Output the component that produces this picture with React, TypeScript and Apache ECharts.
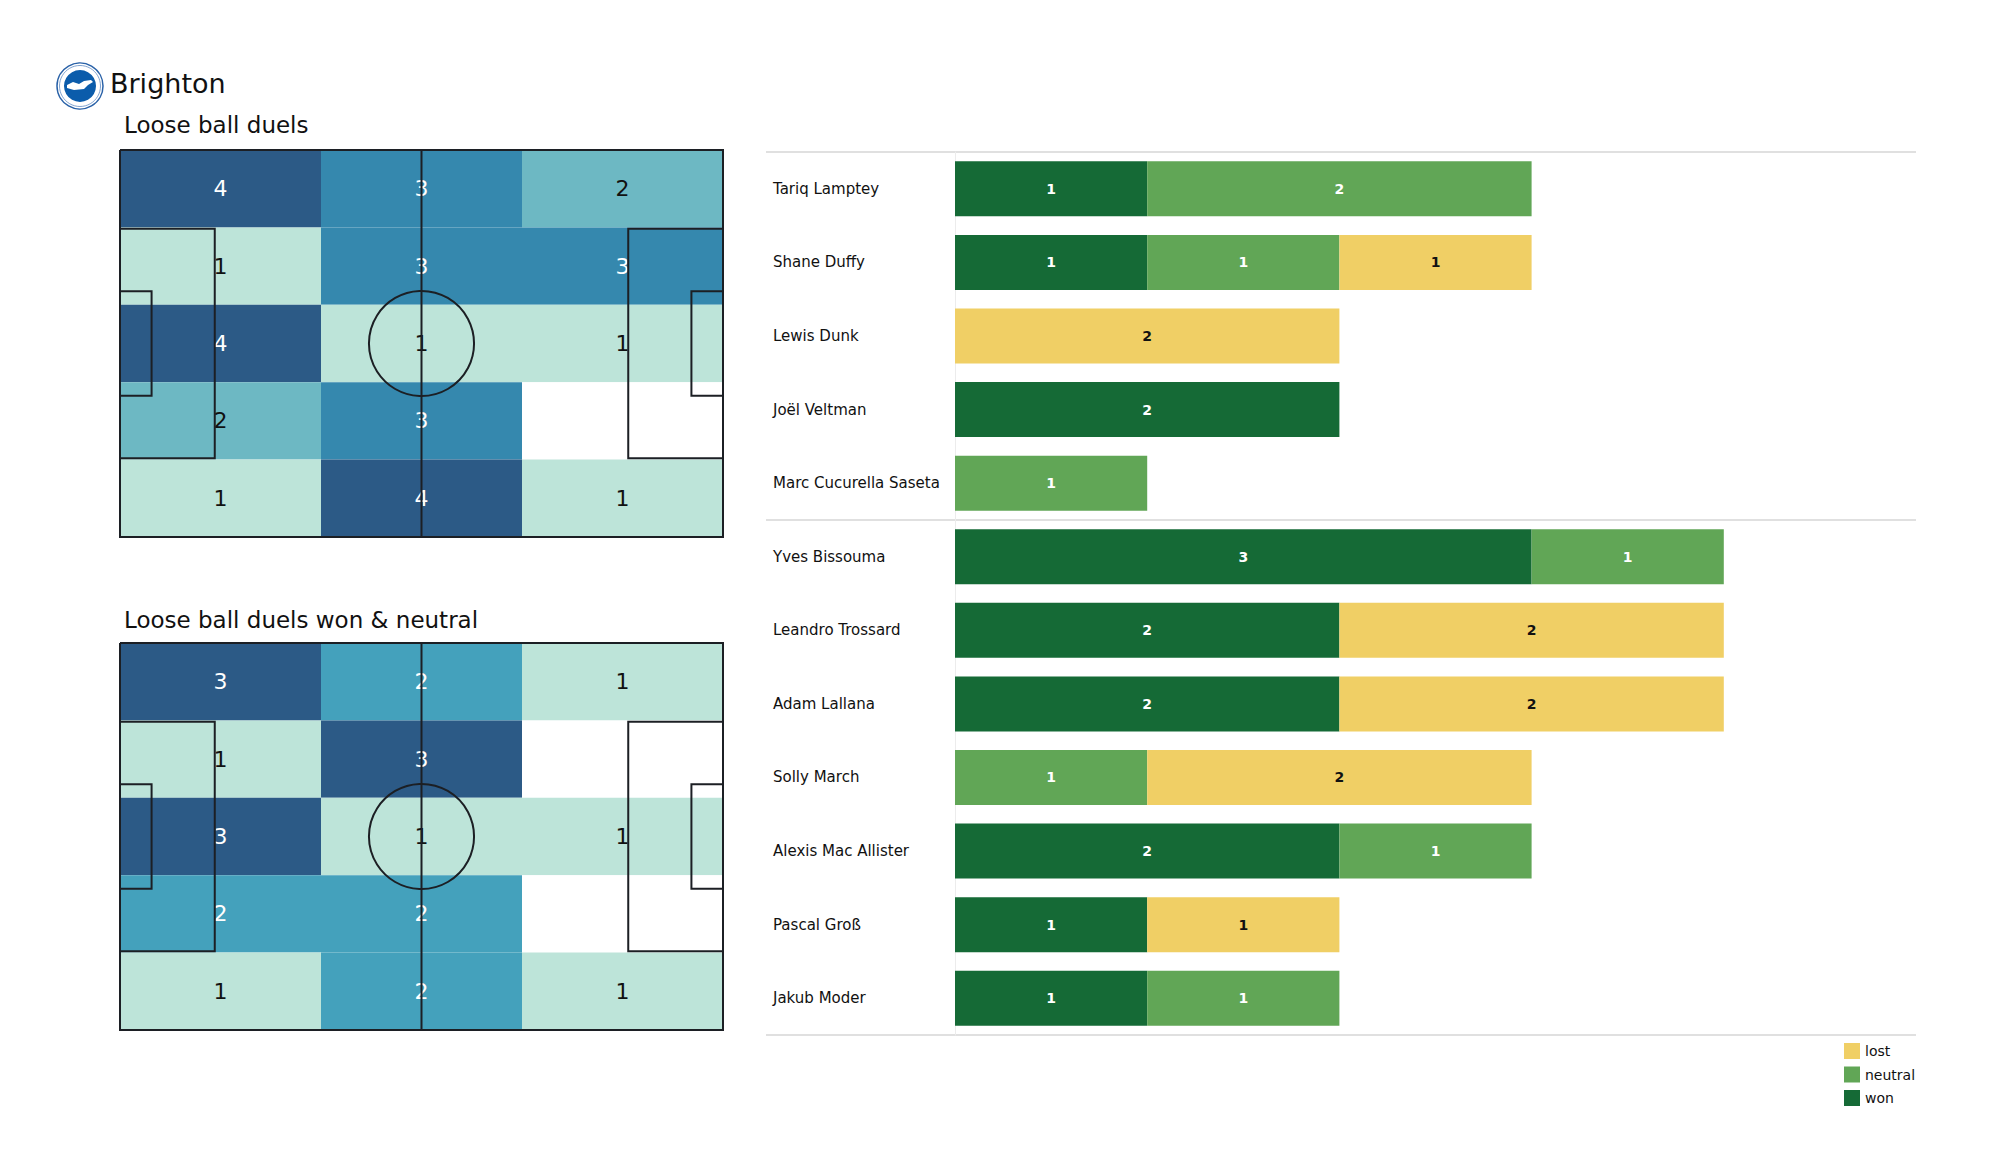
import React, { useEffect, useRef } from "react";
import * as echarts from "echarts";

// ---------- data ----------
const players = [
  "Tariq Lamptey",
  "Shane Duffy",
  "Lewis Dunk",
  "Joël Veltman",
  "Marc Cucurella Saseta",
  "Yves Bissouma",
  "Leandro Trossard",
  "Adam Lallana",
  "Solly March",
  "Alexis Mac Allister",
  "Pascal Groß",
  "Jakub Moder",
];
const won = [1, 1, 0, 2, 0, 3, 2, 2, 0, 2, 1, 1];
const neutral = [2, 1, 0, 0, 1, 1, 0, 0, 1, 1, 0, 1];
const lost = [0, 1, 2, 0, 0, 0, 2, 2, 2, 0, 1, 0];

// pitch zones: rows top->bottom, columns left->right
const duelsAll = [
  [4, 3, 2],
  [1, 3, 3],
  [4, 1, 1],
  [2, 3, 0],
  [1, 4, 1],
];
const duelsWonNeutral = [
  [3, 2, 1],
  [1, 3, 0],
  [3, 1, 1],
  [2, 2, 0],
  [1, 2, 1],
];

const teamName = "Brighton";
const titleTop = "Loose ball duels";
const titleBottom = "Loose ball duels won & neutral";
const legendNames = ["lost", "neutral", "won"];

// ---------- styles / layout ----------
const FONT = "DejaVu Sans";
const C_WON = "#156a36";
const C_NEUTRAL = "#61a656";
const C_LOST = "#f0cf65";
const LINE = "#1c1f24";
const PITCH_L = 0;
const PITCH_W = 105;
const PITCH_H = 68;
const PITCH_LEFT = 120;
const PITCH_WIDTH = 603;
const PITCH_HEIGHT = 387;
const PITCH1_TOP = 150;
const PITCH2_TOP = 643;
const BAR_LEFT = 955;
const BAR_TOP = 152;
const BAR_WIDTH = 961;
const BAR_HEIGHT = 883;

const colorStops: [number, string][] = [
  [0, "#bde4d9"],
  [1 / 3, "#6db8c3"],
  [0.5, "#44a1bc"],
  [2 / 3, "#3588ae"],
  [1, "#2c5a86"],
];

function hexToRgb(h: string) {
  const n = parseInt(h.slice(1), 16);
  return [(n >> 16) & 255, (n >> 8) & 255, n & 255];
}
function cmap(t: number) {
  for (let i = 0; i < colorStops.length - 1; i++) {
    const [t0, c0] = colorStops[i];
    const [t1, c1] = colorStops[i + 1];
    if (t <= t1 + 1e-9) {
      const f = t1 === t0 ? 0 : (t - t0) / (t1 - t0);
      const a = hexToRgb(c0);
      const b = hexToRgb(c1);
      const r = a.map((v, k) => Math.round(v + (b[k] - v) * f));
      return `rgb(${r[0]},${r[1]},${r[2]})`;
    }
  }
  return colorStops[colorStops.length - 1][1];
}

function zoneData(matrix: number[][]) {
  const out: number[][] = [];
  matrix.forEach((row, r) => row.forEach((v, c) => out.push([c, r, v])));
  return out;
}

function makeCellRender(matrix: number[][]) {
  const flat = matrix.flat();
  const max = Math.max(...flat);
  const min = Math.min(...flat.filter((v) => v > 0));
  const nCols = matrix[0].length;
  const nRows = matrix.length;
  const cw = PITCH_W / nCols;
  const rh = PITCH_H / nRows;
  return (params: any, api: any) => {
    const c = api.value(0);
    const r = api.value(1);
    const v = api.value(2);
    const p0 = api.coord([c * cw, r * rh]);
    const p1 = api.coord([(c + 1) * cw, (r + 1) * rh]);
    const x = Math.min(p0[0], p1[0]);
    const y = Math.min(p0[1], p1[1]);
    const w = Math.abs(p1[0] - p0[0]);
    const h = Math.abs(p1[1] - p0[1]);
    if (!v) {
      return { type: "rect", shape: { x, y, width: w, height: h }, style: { fill: "#ffffff" } };
    }
    const t = max === min ? 1 : (v - min) / (max - min);
    return {
      type: "group",
      children: [
        { type: "rect", shape: { x, y, width: w, height: h }, style: { fill: cmap(t) } },
        {
          type: "text",
          x: x + w / 2,
          y: y + h / 2,
          style: {
            text: String(v),
            fill: t > 0.4 ? "#ffffff" : "#111111",
            fontSize: 22,
            fontFamily: FONT,
            align: "center",
            verticalAlign: "middle",
          },
        },
      ],
    };
  };
}

function pitchRender(params: any, api: any) {
  const p = (x: number, y: number) => api.coord([x, y]);
  const st = { stroke: LINE, lineWidth: 2, fill: "none" };
  const poly = (pts: number[][]) => ({
    type: "polyline",
    shape: { points: pts.map(([x, y]) => p(x, y)) },
    style: st,
  });
  const mid = PITCH_H / 2;
  const c = p(PITCH_W / 2, mid);
  const e = p(PITCH_W / 2 + 9.15, mid);
  return {
    type: "group",
    children: [
      poly([
        [PITCH_L, 0],
        [PITCH_W, 0],
        [PITCH_W, PITCH_H],
        [PITCH_L, PITCH_H],
        [PITCH_L, 0],
      ]),
      poly([
        [PITCH_W / 2, 0],
        [PITCH_W / 2, PITCH_H],
      ]),
      poly([
        [0, mid - 20.16],
        [16.5, mid - 20.16],
        [16.5, mid + 20.16],
        [0, mid + 20.16],
      ]),
      poly([
        [0, mid - 9.16],
        [5.5, mid - 9.16],
        [5.5, mid + 9.16],
        [0, mid + 9.16],
      ]),
      poly([
        [PITCH_W, mid - 20.16],
        [PITCH_W - 16.5, mid - 20.16],
        [PITCH_W - 16.5, mid + 20.16],
        [PITCH_W, mid + 20.16],
      ]),
      poly([
        [PITCH_W, mid - 9.16],
        [PITCH_W - 5.5, mid - 9.16],
        [PITCH_W - 5.5, mid + 9.16],
        [PITCH_W, mid + 9.16],
      ]),
      {
        type: "circle",
        shape: { cx: c[0], cy: c[1], r: Math.abs(e[0] - c[0]) },
        style: st,
      },
    ],
  };
}

function buildOption() {
  const pitchAxisX = (i: number) => ({ type: "value", gridIndex: i, min: 0, max: PITCH_W, show: false });
  const pitchAxisY = (i: number) => ({ type: "value", gridIndex: i, min: 0, max: PITCH_H, inverse: true, show: false });
  const barLabel = (color: string) => ({
    show: true,
    position: "inside",
    color,
    fontSize: 14,
    fontWeight: "bold",
    fontFamily: FONT,
    formatter: (p: any) => (p.value ? String(p.value) : ""),
  });
  const band = BAR_HEIGHT / players.length;
  const sepStyle = { stroke: "#d6d6d6", lineWidth: 1.5 };
  const sepX1 = 766;
  const sepX2 = BAR_LEFT + BAR_WIDTH;

  return {
    animation: false,
    backgroundColor: "#ffffff",
    textStyle: { fontFamily: FONT },
    grid: [
      { left: PITCH_LEFT, top: PITCH1_TOP, width: PITCH_WIDTH, height: PITCH_HEIGHT },
      { left: PITCH_LEFT, top: PITCH2_TOP, width: PITCH_WIDTH, height: PITCH_HEIGHT },
      { left: BAR_LEFT, top: BAR_TOP, width: BAR_WIDTH, height: BAR_HEIGHT },
    ],
    xAxis: [
      pitchAxisX(0),
      pitchAxisX(1),
      { type: "value", gridIndex: 2, min: 0, max: 5, show: false },
    ],
    yAxis: [
      pitchAxisY(0),
      pitchAxisY(1),
      {
        type: "category",
        gridIndex: 2,
        data: players,
        inverse: true,
        axisTick: { show: false },
        axisLine: { show: true, lineStyle: { color: "#ececec", width: 1 } },
        axisLabel: {
          margin: BAR_LEFT - 773,
          align: "left",
          fontSize: 15,
          color: "#111111",
          fontFamily: FONT,
        },
      },
    ],
    legend: {
      data: legendNames,
      orient: "vertical",
      left: 1844,
      top: 1043,
      padding: 0,
      itemWidth: 16,
      itemHeight: 16,
      itemGap: 7.5,
      icon: "rect",
      textStyle: { fontSize: 14, color: "#111111", fontFamily: FONT },
    },
    series: [
      {
        type: "custom",
        name: "zones-all",
        xAxisIndex: 0,
        yAxisIndex: 0,
        renderItem: makeCellRender(duelsAll),
        data: zoneData(duelsAll),
        clip: false,
        silent: true,
        z: 1,
      },
      {
        type: "custom",
        name: "pitch-1",
        xAxisIndex: 0,
        yAxisIndex: 0,
        renderItem: pitchRender,
        data: [[0]],
        clip: false,
        silent: true,
        z: 3,
      },
      {
        type: "custom",
        name: "zones-wn",
        xAxisIndex: 1,
        yAxisIndex: 1,
        renderItem: makeCellRender(duelsWonNeutral),
        data: zoneData(duelsWonNeutral),
        clip: false,
        silent: true,
        z: 1,
      },
      {
        type: "custom",
        name: "pitch-2",
        xAxisIndex: 1,
        yAxisIndex: 1,
        renderItem: pitchRender,
        data: [[0]],
        clip: false,
        silent: true,
        z: 3,
      },
      {
        type: "bar",
        name: "won",
        xAxisIndex: 2,
        yAxisIndex: 2,
        stack: "duels",
        barWidth: 55,
        itemStyle: { color: C_WON },
        label: barLabel("#ffffff"),
        data: won,
      },
      {
        type: "bar",
        name: "neutral",
        xAxisIndex: 2,
        yAxisIndex: 2,
        stack: "duels",
        barWidth: 55,
        itemStyle: { color: C_NEUTRAL },
        label: barLabel("#ffffff"),
        data: neutral,
      },
      {
        type: "bar",
        name: "lost",
        xAxisIndex: 2,
        yAxisIndex: 2,
        stack: "duels",
        barWidth: 55,
        itemStyle: { color: C_LOST },
        label: barLabel("#111111"),
        data: lost,
      },
    ],
    graphic: [
      // logo
      {
        type: "group",
        x: 80,
        y: 86,
        children: [
          { type: "circle", shape: { cx: 0, cy: 0, r: 23 }, style: { fill: "#ffffff", stroke: "#2a62a8", lineWidth: 1.5 } },
          { type: "circle", shape: { cx: 0, cy: 0, r: 20.5 }, style: { fill: "none", stroke: "#5f8cc4", lineWidth: 0.8 } },
          { type: "circle", shape: { cx: 0, cy: 0, r: 16 }, style: { fill: "#0b5cab" } },
          {
            type: "polygon",
            shape: {
              points: [
                [-13, -1],
                [-7, -4],
                [-1, -2],
                [4, -5],
                [11, -6],
                [13, -4],
                [8, -1],
                [4, 3],
                [-6, 4],
                [-13, 2],
              ],
            },
            style: { fill: "#ffffff" },
          },
        ],
      },
      {
        type: "text",
        x: 110,
        y: 83,
        style: { text: teamName, fontSize: 27, fontFamily: FONT, fill: "#111111", verticalAlign: "middle" },
      },
      {
        type: "text",
        x: 124,
        y: 125,
        style: { text: titleTop, fontSize: 23, fontFamily: FONT, fill: "#111111", verticalAlign: "middle" },
      },
      {
        type: "text",
        x: 124,
        y: 620,
        style: { text: titleBottom, fontSize: 23, fontFamily: FONT, fill: "#111111", verticalAlign: "middle" },
      },
      // separators of the bar table
      { type: "line", shape: { x1: sepX1, y1: BAR_TOP, x2: sepX2, y2: BAR_TOP }, style: sepStyle },
      { type: "line", shape: { x1: sepX1, y1: BAR_TOP + 5 * band, x2: sepX2, y2: BAR_TOP + 5 * band }, style: sepStyle },
      { type: "line", shape: { x1: sepX1, y1: BAR_TOP + BAR_HEIGHT, x2: sepX2, y2: BAR_TOP + BAR_HEIGHT }, style: sepStyle },
    ],
  };
}

export default function App() {
  const ref = useRef<HTMLDivElement>(null);
  useEffect(() => {
    if (!ref.current) return;
    const chart = echarts.init(ref.current, null, { renderer: "svg" });
    chart.setOption(buildOption() as any);
    return () => chart.dispose();
  }, []);
  return (
    <div
      ref={ref}
      style={{ position: "absolute", left: 0, top: 0, width: 2000, height: 1175, background: "#ffffff" }}
    />
  );
}
